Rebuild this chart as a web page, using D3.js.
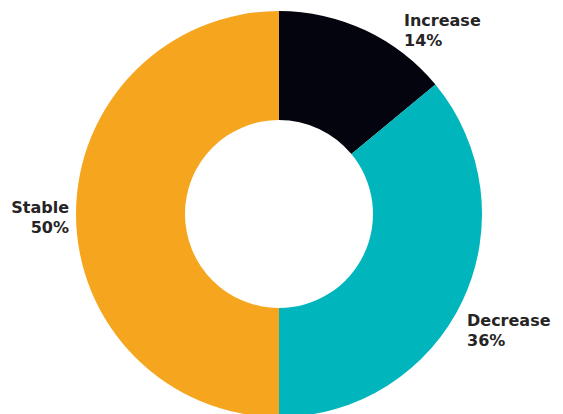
<!DOCTYPE html>
<html>
<head>
<meta charset="utf-8">
<script src="https://cdn.jsdelivr.net/npm/d3@7"></script>
<style>
  html, body { margin: 0; padding: 0; background: #ffffff; }
  svg { display: block; }
  .lbl { font-family: "DejaVu Sans", sans-serif; font-weight: 700; font-size: 16px; fill: #262424; }
</style>
</head>
<body>
<svg id="chart" width="563" height="414"></svg>
<script>
// Share of responses by direction of change
const categories = ["Increase", "Decrease", "Stable"];
const shares = [14, 36, 50];
const colors = ["#03040e", "#00b5bc", "#f6a51f"];

const width = 563, height = 414;
const cx = 279, cy = 214;
const outerR = 203, innerR = 94;

const svg = d3.select("#chart");
const g = svg.append("g").attr("transform", `translate(${cx},${cy})`);

const pie = d3.pie().value(d => d.value).sort(null);
const arc = d3.arc().innerRadius(innerR).outerRadius(outerR);

const data = categories.map((c, i) => ({ name: c, value: shares[i], color: colors[i] }));
const arcs = pie(data);

g.selectAll("path")
  .data(arcs)
  .join("path")
  .attr("d", arc)
  .attr("fill", d => d.data.color);

// Label placement beside each slice: [x, y of first baseline, anchor]
const labelPos = {
  "Increase": [404, 26, "start"],
  "Decrease": [467, 326, "start"],
  "Stable": [69, 213, "end"]
};

arcs.forEach(a => {
  const [x, y, anchor] = labelPos[a.data.name];
  const t = svg.append("text")
    .attr("class", "lbl")
    .attr("x", x).attr("y", y)
    .attr("text-anchor", anchor);
  t.append("tspan").attr("x", x).text(a.data.name);
  t.append("tspan").attr("x", x).attr("dy", 20).text(a.data.value + "%");
});
</script>
</body>
</html>
